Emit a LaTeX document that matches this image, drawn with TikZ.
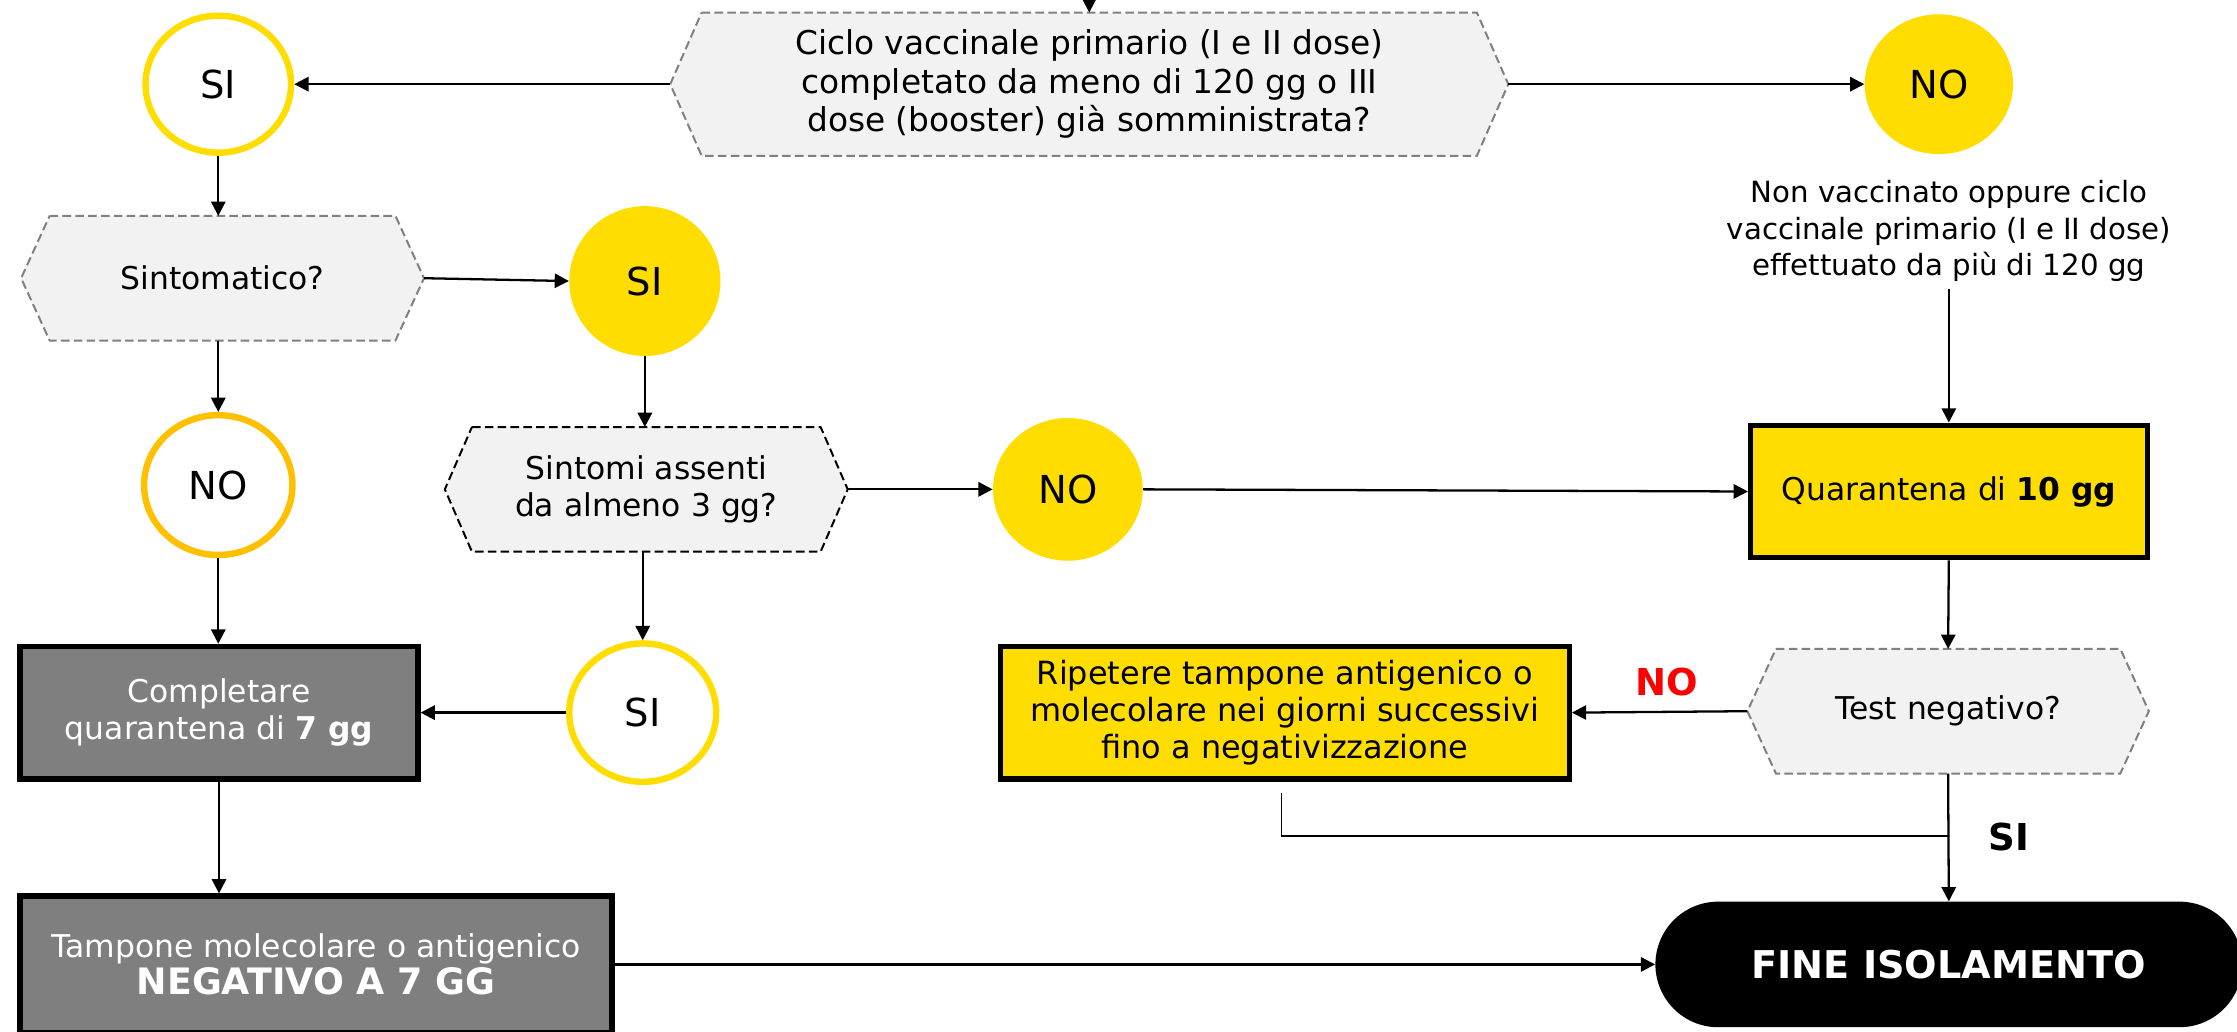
\documentclass[tikz,border=0pt]{standalone}
\usepackage{fontspec}
\setmainfont{DejaVu Sans}
\usetikzlibrary{arrows.meta,calc,shapes.geometric,shapes.misc,backgrounds}
\definecolor{ylw}{RGB}{255,221,0}
\definecolor{org}{RGB}{255,192,0}
\definecolor{hexfill}{RGB}{242,242,242}
\definecolor{hexgray}{RGB}{128,128,128}
\definecolor{boxgray}{RGB}{127,127,127}
\newcommand\hexpath[3]{%
  \path[#3] ($(#1.north west)+(#2,0)$) -- ($(#1.north east)+(-#2,0)$) -- (#1.east)
    -- ($(#1.south east)+(-#2,0)$) -- ($(#1.south west)+(#2,0)$) -- (#1.west) -- cycle;}
\tikzset{
  base/.style={font=\fontsize{22}{26}\selectfont, align=center, inner sep=0pt},
  hexnode/.style={base, minimum height=87pt},
  ring/.style={ellipse, draw=ylw, line width=4.5pt, fill=white, font=\fontsize{27}{30}\selectfont, inner sep=0pt},
  orring/.style={ring, draw=org},
  dot/.style={ellipse, fill=ylw, font=\fontsize{27}{30}\selectfont, inner sep=0pt},
  ybox/.style={base, draw=black, line width=3.6pt, fill=ylw},
  gbox/.style={base, draw=black, line width=3.6pt, fill=boxgray, text=white},
  arr/.style={-{Triangle[length=10pt,width=10pt]}, line width=1.6pt},
  thinline/.style={line width=0.8pt},
  hexgrayline/.style={fill=hexfill, draw=hexgray, line width=1.4pt, dash pattern=on 6pt off 3pt},
  hexblackline/.style={fill=hexfill, draw=black, line width=1.4pt, dash pattern=on 6pt off 3pt},
  lab/.style={font=\fontsize{26}{30}\selectfont\bfseries}
}
\begin{document}
\begin{tikzpicture}[x=1pt,y=-1pt]
\useasboundingbox (0,0) rectangle (1568,723);
\clip (0,0) rectangle (1568,723);
% nodes
\node[ring, minimum width=102pt, minimum height=96pt] (si1) at (153,59) {SI};
\node[hexnode, minimum width=587pt, minimum height=100pt, font=\fontsize{23}{27}\selectfont] (q1) at (763.5,59) {Ciclo vaccinale primario (I e II dose)\\completato da meno di 120 gg o III\\dose (booster) già somministrata?};
\node[dot, minimum width=104pt, minimum height=98pt] (no1) at (1359,59) {NO};
\node[base, font=\fontsize{20.5}{25.5}\selectfont, inner sep=5pt] (txt) at (1366,162) {Non vaccinato oppure ciclo\\vaccinale primario (I e II dose)\\effettuato da più di 120 gg};
\node[hexnode, minimum width=282pt] (sint) at (156,195) {Sintomatico?};
\node[dot, minimum width=106pt, minimum height=105pt] (si2) at (452,197) {SI};
\node[hexnode, minimum width=282pt] (sa) at (453,343) {Sintomi assenti\\da almeno 3 gg?};
\node[dot, minimum width=105pt, minimum height=100pt] (no2) at (748.5,343) {NO};
\node[orring, minimum width=104pt, minimum height=98pt] (no3) at (153,340) {NO};
\node[ybox, minimum width=278pt, minimum height=93pt] (quar) at (1366,344.5) {Quarantena di \textbf{10 gg}};
\node[gbox, minimum width=279pt, minimum height=93pt] (comp) at (153.5,499.5) {Completare\\quarantena di \textbf{7 gg}};
\node[ring, minimum width=103pt, minimum height=97pt] (si3) at (450.5,499.5) {SI};
\node[ybox, minimum width=399pt, minimum height=93pt, font=\fontsize{22.4}{26}\selectfont] (rip) at (900.5,499.5) {Ripetere tampone antigenico o\\molecolare nei giorni successivi\\fino a negativizzazione};
\node[hexnode, minimum width=281pt] (test) at (1365.5,498.5) {Test negativo?};
\node[gbox, minimum width=415pt, minimum height=96pt] (tamp) at (221.5,676) {Tampone molecolare o antigenico\\{\fontsize{25.5}{26}\selectfont\bfseries NEGATIVO A 7 GG}};
\node[rounded rectangle, fill=black, text=white, minimum width=418pt, minimum height=88pt, font=\fontsize{26.8}{30}\selectfont\bfseries] (fine) at (1366,676) {FINE ISOLAMENTO};
\node[lab, text=red] (nolab) at (1168,478) {NO};
\node[lab] (silab) at (1408,587) {SI};
% hexagons
\begin{scope}[on background layer]
\hexpath{q1}{22}{hexgrayline}
\hexpath{sint}{20}{hexgrayline}
\hexpath{sa}{19}{hexblackline}
\hexpath{test}{20}{hexgrayline}
\end{scope}
% coordinates
\coordinate (topin) at (763.5,-20);
\coordinate (ripa) at (898,556);
\coordinate (ripj) at (1366,586);
% connectors
\draw[arr] (topin) -- (q1.north);
\draw[arr] (q1.west) -- (si1.east);
\draw[arr] (q1.east) -- (no1.west);
\draw[arr] (si1.south) -- (si1.south |- sint.north);
\draw[arr] (sint.east) -- (si2.west);
\draw[arr] (no3.north |- sint.south) -- (no3.north);
\draw[arr] (si2.south) -- (si2.south |- sa.north);
\draw[arr] (sa.east) -- (no2.west);
\draw[arr] (no2.east) -- (quar.west);
\draw[arr] (txt.south) -- (quar.north);
\draw[arr] (si3.north |- sa.south) -- (si3.north);
\draw[arr] (si3.west) -- (comp.east);
\draw[arr] (no3.south) -- (no3.south |- comp.north);
\draw[arr] (comp.south) -- (comp.south |- tamp.north);
\draw[arr] (tamp.east) -- (fine.west);
\draw[arr] (quar.south) -- (test.north);
\draw[arr] (test.west) -- (rip.east);
\draw[arr] (test.south) -- (fine.north);
\draw[thinline] (ripa) |- (ripj);
\end{tikzpicture}
\end{document}
